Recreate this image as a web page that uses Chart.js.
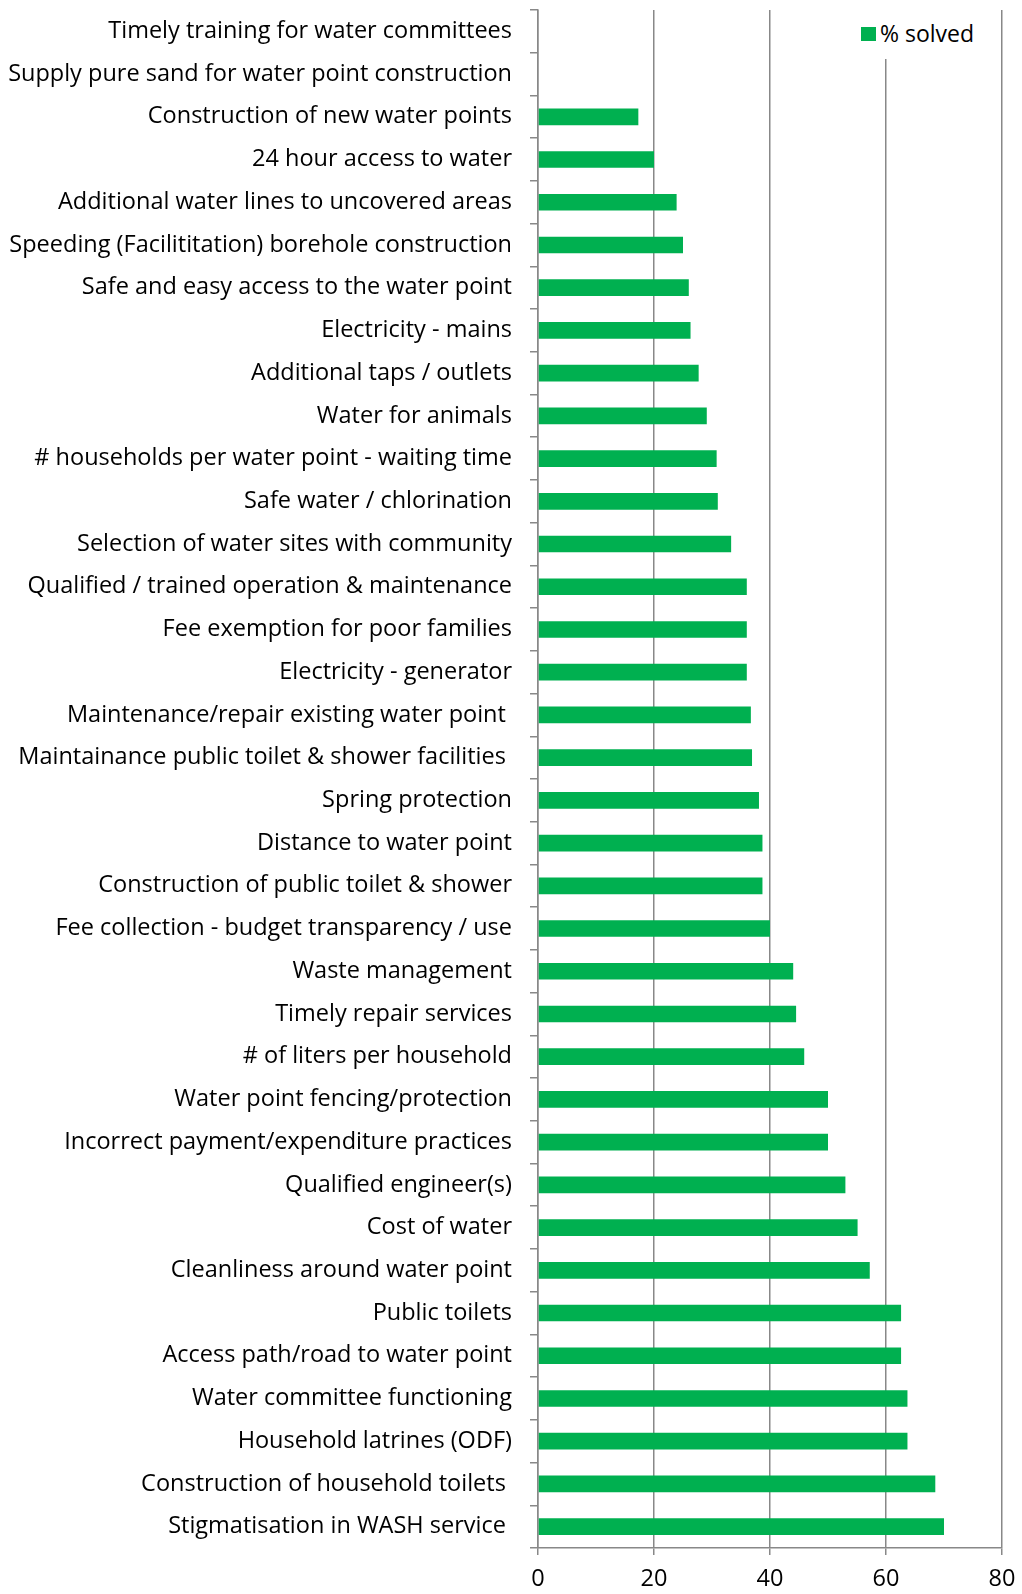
<!DOCTYPE html>
<html>
<head>
<meta charset="utf-8">
<script src="https://cdn.jsdelivr.net/npm/chart.js@4.4.3/dist/chart.umd.min.js"></script>
<style>
  html, body { margin: 0; padding: 0; background: #fff; }
  .wrap { position: relative; width: 1022px; height: 1594px; }
  #legend {
    position: absolute; left: 852px; top: 0; width: 142px; height: 59px;
    background: #fff; font-family: "Open Sans", sans-serif; font-size: 23px; color: #000;
  }
  #legend .sw { position: absolute; left: 9px; top: 27px; width: 15px; height: 14px; background: #00B050; }
  #legend .tx { position: absolute; left: 28px; top: 17px; line-height: 32px; }
</style>
</head>
<body>
<div class="wrap">
  <canvas id="chart" width="1022" height="1594"></canvas>
  <div id="legend"><span class="sw"></span><span class="tx">% solved</span></div>
</div>
<script>
const CATEGORIES = [
  'Timely training for water committees',
  'Supply pure sand for water point construction',
  'Construction of new water points',
  '24 hour access to water',
  'Additional water lines to uncovered areas',
  'Speeding (Facilititation) borehole construction',
  'Safe and easy access to the water point',
  'Electricity - mains',
  'Additional taps / outlets',
  'Water for animals',
  '# households per water point - waiting time',
  'Safe water / chlorination',
  'Selection of water sites with community',
  'Qualified / trained operation & maintenance',
  'Fee exemption for poor families',
  'Electricity - generator',
  'Maintenance/repair existing water point ',
  'Maintainance public toilet & shower facilities ',
  'Spring protection',
  'Distance to water point',
  'Construction of public toilet & shower',
  'Fee collection - budget transparency / use',
  'Waste management',
  'Timely repair services',
  '# of liters per household',
  'Water point fencing/protection',
  'Incorrect payment/expenditure practices',
  'Qualified engineer(s)',
  'Cost of water',
  'Cleanliness around water point',
  'Public toilets',
  'Access path/road to water point',
  'Water committee functioning',
  'Household latrines (ODF)',
  'Construction of household toilets ',
  'Stigmatisation in WASH service '
];

const SOLVED = [
  0, 0, 17.3, 20, 23.9, 25, 26, 26.3, 27.7, 29.1,
  30.8, 31, 33.3, 36, 36, 36, 36.7, 36.9, 38.1, 38.7,
  38.7, 40, 44, 44.5, 45.9, 50, 50, 53, 55.1, 57.2,
  62.6, 62.6, 63.7, 63.7, 68.5, 70
];

const X_TICKS = [0, 20, 40, 60, 80];

const GREEN = '#00B050';
const GRID = '#888888';
const FONT = { family: '"Open Sans", sans-serif', size: 23.5 };

new Chart(document.getElementById('chart'), {
  type: 'bar',
  data: {
    labels: CATEGORIES,
    datasets: [{
      label: '% solved',
      data: SOLVED,
      backgroundColor: GREEN,
      borderWidth: 0,
      barPercentage: 0.39,
      categoryPercentage: 1
    }]
  },
  options: {
    indexAxis: 'y',
    responsive: false,
    animation: false,
    layout: { padding: { top: 10, right: 20, bottom: 0, left: 0 } },
    plugins: { legend: { display: false }, tooltip: { enabled: false } },
    scales: {
      x: {
        min: 0,
        max: 80,
        afterBuildTicks: s => { s.ticks = X_TICKS.map(v => ({ value: v })); },
        // pin the axis box so the plot area matches the original
        afterFit: s => { s.height = 46; s.paddingLeft = 0; s.paddingRight = 0; },
        ticks: { color: '#000', font: FONT, padding: 10 },
        grid: { color: GRID, lineWidth: 1.5, tickLength: 7, drawTicks: true },
        border: { display: true, color: GRID, width: 1.5 }
      },
      y: {
        afterFit: s => { s.width = 538; s.paddingTop = 0; s.paddingBottom = 0; },
        ticks: { color: '#000', font: FONT, padding: 18, autoSkip: false },
        grid: { color: GRID, lineWidth: 1.5, drawOnChartArea: false, tickLength: 8, offset: true },
        border: { display: true, color: GRID, width: 1.5 }
      }
    }
  }
});
</script>
</body>
</html>
